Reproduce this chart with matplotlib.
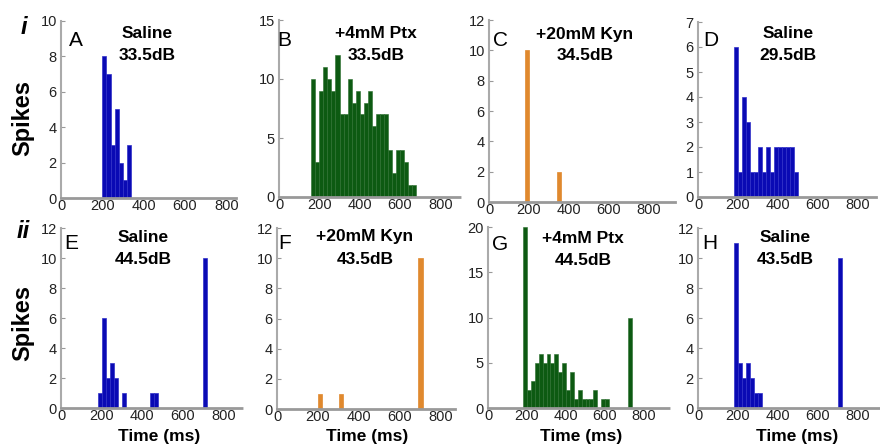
import numpy as np
import matplotlib
matplotlib.use('Agg')
import matplotlib.pyplot as plt

plt.rcParams['font.family'] = ['Liberation Sans', 'DejaVu Sans']

# данные гистограмм (левый край бина, мс) и число спайков
a_edges = [200, 220, 240, 260, 280, 300, 320]
a_counts = [8, 7, 3, 5, 2, 1, 3]

b_start = 160
b_counts = [10, 3, 9, 11, 10, 9, 12, 7, 7, 10, 8, 9, 7, 8, 9, 6, 7, 7, 7, 4, 2, 4, 4, 3, 1, 1]

c_edges = [180, 340]
c_counts = [10, 2]

d_start = 180
d_counts = [6, 1, 4, 3, 1, 1, 2, 1, 2, 1, 2, 2, 2, 2, 2, 1]

e_edges = [180, 200, 220, 240, 260, 300, 440, 460, 700]
e_counts = [1, 6, 2, 3, 2, 1, 1, 1, 10]

f_edges = [200, 300, 690]
f_counts = [1, 1, 10]

g_start = 180
g_counts = [20, 2, 3, 5, 6, 5, 6, 5, 6, 4, 5, 2, 4, 1, 2, 1, 1, 1, 2, 0, 1, 1]
g_late_edge = 720
g_late_count = 10

h_edges = [180, 200, 220, 240, 260, 280, 300, 700]
h_counts = [11, 3, 2, 3, 2, 1, 1, 10]

BLUE = '#0a0ab4'
GREEN = '#0d5a12'
ORANGE = '#e0892e'

W, H = 880, 448
fig = plt.figure(figsize=(8.8, 4.48), dpi=100)


def px(x, y):
    return x / W, 1 - y / H


def make_ax(x0, y0, ytop, ymax, ppm, xmax, yticks):
    # x0, y0 - пиксели нуля осей; ytop - пиксель верхней границы
    left, bottom = px(x0, y0)
    width = ppm * xmax / W
    height = (y0 - ytop) / H
    ax = fig.add_axes([left, bottom, width, height])
    ax.set_xlim(0, xmax)
    ax.set_ylim(0, ymax)
    ax.set_xticks([0, 200, 400, 600, 800])
    ax.set_yticks(yticks)
    for s in ['top', 'right']:
        ax.spines[s].set_visible(False)
    ax.spines['left'].set_color('#aaaaaa')
    ax.spines['left'].set_linewidth(1.5)
    ax.spines['bottom'].set_color('#999999')
    ax.spines['bottom'].set_linewidth(2)
    ax.spines['bottom'].set_linestyle((0, (1, 1)))
    ax.tick_params(axis='y', direction='in', length=3, color='#999999',
                   labelsize=10.5, labelcolor='#222222', pad=3)
    ax.tick_params(axis='x', length=0, labelsize=10.5, labelcolor='#222222', pad=1)
    ax.set_facecolor('none')
    return ax


def label(ax_x, ax_y, letter, line1, line2, title_x):
    fx, fy = px(ax_x, ax_y)
    fig.text(fx, fy, letter, fontsize=15, ha='left', va='center')
    tx, ty = px(title_x, ax_y - 6)
    fig.text(tx, ty, line1, fontsize=12.5, fontweight='bold', ha='center', va='center')
    tx, ty = px(title_x, ax_y + 16)
    fig.text(tx, ty, line2, fontsize=12.5, fontweight='bold', ha='center', va='center')


def time_label(x):
    fx, fy = px(x, 436)
    fig.text(fx, fy, 'Time (ms)', fontsize=12.5, fontweight='bold', ha='center', va='center')


# A
ax = make_ax(61, 198, 21, 10, 0.2065, 850, range(0, 11, 2))
ax.bar(a_edges, a_counts, width=20, align='edge', color=BLUE, edgecolor='#3030c8', linewidth=0.5)
label(69, 40, 'A', 'Saline', '33.5dB', 147)

# B
ax = make_ax(279, 197, 20, 15, 0.2017, 900, [0, 5, 10, 15])
b_edges = b_start + 20 * np.arange(len(b_counts))
ax.bar(b_edges, b_counts, width=20, align='edge', color=GREEN, edgecolor='#2a6e2e', linewidth=0.4)
label(277, 40, 'B', '+4mM Ptx', '33.5dB', 376)

# C
ax = make_ax(489, 202, 20, 12, 0.200, 930, range(0, 13, 2))
ax.bar(c_edges, c_counts, width=22, align='edge', color=ORANGE, edgecolor=ORANGE, linewidth=0.5)
label(493, 40, 'C', '+20mM Kyn', '34.5dB', 585)

# D
ax = make_ax(698, 197, 22, 7, 0.200, 890, range(0, 8))
d_edges = d_start + 20 * np.arange(len(d_counts))
ax.bar(d_edges, d_counts, width=20, align='edge', color=BLUE, edgecolor='#3030c8', linewidth=0.5)
label(703, 40, 'D', 'Saline', '29.5dB', 788)

# E
ax = make_ax(61, 408, 228, 12, 0.203, 900, range(0, 13, 2))
ax.bar(e_edges, e_counts, width=20, align='edge', color=BLUE, edgecolor='#3030c8', linewidth=0.5)
label(64, 243, 'E', 'Saline', '44.5dB', 143)
time_label(159)

# F
ax = make_ax(277, 409, 228, 12, 0.205, 868, range(0, 13, 2))
ax.bar(f_edges, f_counts, width=20, align='edge', color=ORANGE, edgecolor=ORANGE, linewidth=0.5)
label(278, 243, 'F', '+20mM Kyn', '43.5dB', 365)
time_label(367)

# G
ax = make_ax(488, 408, 227, 20, 0.195, 930, [0, 5, 10, 15, 20])
g_edges = g_start + 20 * np.arange(len(g_counts))
ax.bar(g_edges, g_counts, width=20, align='edge', color=GREEN, edgecolor='#2a6e2e', linewidth=0.4)
ax.bar([g_late_edge], [g_late_count], width=16, align='edge', color=GREEN, edgecolor='#2a6e2e', linewidth=0.4)
label(492, 244, 'G', '+4mM Ptx', '44.5dB', 583)
time_label(581)

# H
ax = make_ax(698, 408, 228, 12, 0.200, 905, range(0, 13, 2))
ax.bar(h_edges, h_counts, width=20, align='edge', color=BLUE, edgecolor='#3030c8', linewidth=0.5)
label(702, 243, 'H', 'Saline', '43.5dB', 785)
time_label(797)

# подписи рядов и оси Y
fx, fy = px(24, 28)
fig.text(fx, fy, 'i', fontsize=17, fontweight='bold', fontstyle='italic', ha='center', va='center')
fx, fy = px(23, 231)
fig.text(fx, fy, 'ii', fontsize=17, fontweight='bold', fontstyle='italic', ha='center', va='center')
fx, fy = px(23, 118)
fig.text(fx, fy, 'Spikes', fontsize=17, fontweight='bold', rotation=90, ha='center', va='center')
fx, fy = px(23, 323)
fig.text(fx, fy, 'Spikes', fontsize=17, fontweight='bold', rotation=90, ha='center', va='center')

fig.savefig('out.png', dpi=100)
